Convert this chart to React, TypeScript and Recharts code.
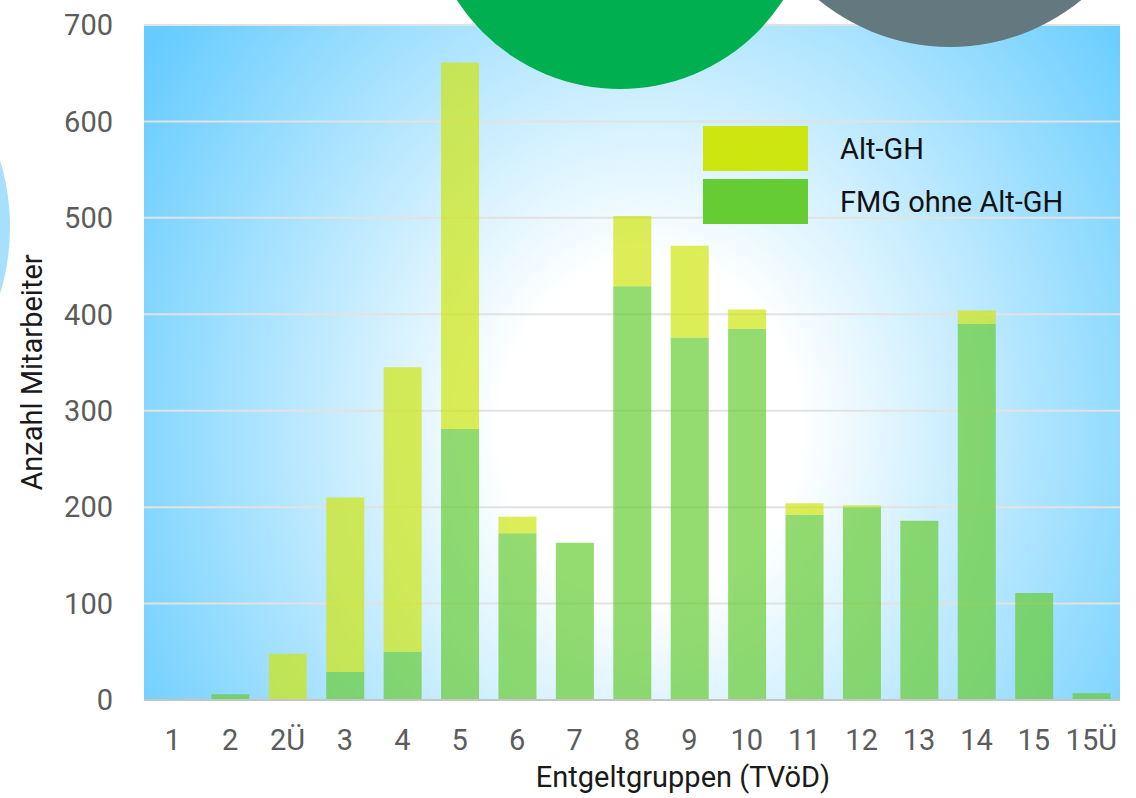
import { BarChart, Bar, XAxis, YAxis, CartesianGrid, Legend } from 'recharts'

const GROUPS = ['1', '2', '2Ü', '3', '4', '5', '6', '7', '8', '9', '10', '11', '12', '13', '14', '15', '15Ü']
const FMG_OHNE_ALT_GH = [0, 6, 0, 29, 50, 281, 173, 163, 429, 376, 385, 192, 200, 186, 390, 111, 7]
const ALT_GH = [0, 0, 48, 181, 295, 380, 17, 0, 73, 95, 20, 12, 2, 0, 14, 0, 0]
const Y_TICKS = [0, 100, 200, 300, 400, 500, 600, 700]

const SERIES = [
  { key: 'altGh', name: 'Alt-GH', color: '#cde60f' },
  { key: 'fmg', name: 'FMG ohne Alt-GH', color: '#66cc33' },
]

const data = GROUPS.map((g, i) => ({ group: g, fmg: FMG_OHNE_ALT_GH[i], altGh: ALT_GH[i] }))

const FONT = 'Roboto, "DejaVu Sans", sans-serif'

function LegendBox() {
  return (
    <div style={{ fontFamily: FONT }}>
      {SERIES.map((s) => (
        <div key={s.key} style={{ display: 'flex', alignItems: 'center', height: 45, marginBottom: 8 }}>
          <div style={{ width: 105, height: 45, background: s.color }} />
          <span style={{ marginLeft: 32, fontSize: 29, color: '#111' }}>{s.name}</span>
        </div>
      ))}
    </div>
  )
}

function YTitle({ viewBox }: any) {
  const cy = viewBox.y + viewBox.height / 2 + 10
  return (
    <text x={42} y={cy} transform={`rotate(-90 42 ${cy})`} textAnchor="middle"
      fontSize={29} fill="#1a1a1a" fontFamily={FONT}>
      Anzahl Mitarbeiter
    </text>
  )
}

function XTitle({ viewBox }: any) {
  const cx = viewBox.x + viewBox.width / 2 + 51
  return (
    <text x={cx} y={787} textAnchor="middle" fontSize={29} fill="#1a1a1a" fontFamily={FONT}>
      Entgeltgruppen (TVöD)
    </text>
  )
}

const circle = (left: number, top: number, r: number, color: string, z: number) => ({
  position: 'absolute' as const,
  left: left - r,
  top: top - r,
  width: r * 2,
  height: r * 2,
  borderRadius: '50%',
  background: color,
  zIndex: z,
  pointerEvents: 'none' as const,
})

export default function App() {
  const tick = { fontSize: 29, fill: '#5c5c5c', fontFamily: FONT }
  return (
    <div style={{ position: 'relative', width: 1136, height: 798, overflow: 'hidden', background: '#fff' }}>
      <style>{'body{margin:0}'}</style>
      {/* decorative circles */}
      <div style={circle(-219, 227, 229, '#a6e0fc', 0)} />
      <div style={{ position: 'absolute', left: 0, top: 0, zIndex: 1 }}>
        <BarChart width={1136} height={798} data={data} margin={{ top: 25, right: 16, bottom: 0, left: 0 }}>
          <defs>
            <radialGradient id="bg" gradientUnits="userSpaceOnUse" cx={650} cy={430} r={600}
              gradientTransform="translate(650 430) scale(1 1.13) translate(-650 -430)">
              <stop offset="0" stopColor="#ffffff" />
              <stop offset="0.25" stopColor="#ffffff" />
              <stop offset="1" stopColor="#66ccff" />
            </radialGradient>
          </defs>
          <CartesianGrid vertical={false} stroke="#e2e2e2" strokeWidth={2} fill="url(#bg)" />
          <XAxis dataKey="group" interval={0} height={98} tickSize={0} tickMargin={29}
            axisLine={{ stroke: '#c4c4c4', strokeWidth: 2 }} tickLine={false} tick={tick}
            label={{ content: XTitle }} />
          <YAxis width={144} domain={[0, 700]} ticks={Y_TICKS} tickSize={0} tickMargin={31}
            axisLine={false} tickLine={false} tick={tick} label={{ content: YTitle }} />
          <Legend layout="vertical" align="center" verticalAlign="middle" content={LegendBox}
            wrapperStyle={{ position: 'absolute', left: 703, top: 126, width: 'auto' }} />
          <Bar dataKey="fmg" name="FMG ohne Alt-GH" stackId="a" fill="#66cc33" fillOpacity={0.7}
            barSize={38} isAnimationActive={false} />
          <Bar dataKey="altGh" name="Alt-GH" stackId="a" fill="#cde60f" fillOpacity={0.7}
            barSize={38} isAnimationActive={false} />
        </BarChart>
      </div>
      <div style={circle(620, -105, 194, '#00b050', 2)} />
      <div style={circle(950, -160, 207, '#647880', 2)} />
    </div>
  )
}
